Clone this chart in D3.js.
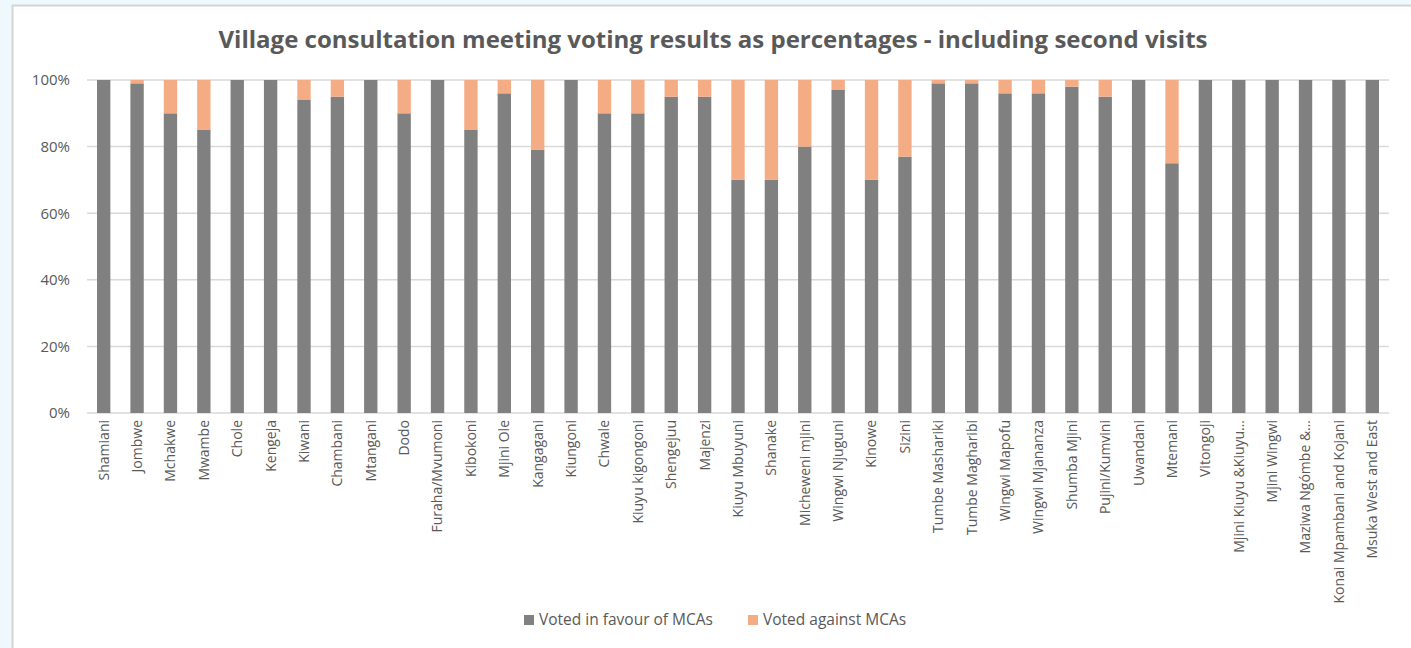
<!DOCTYPE html>
<html>
<head>
<meta charset="utf-8">
<script src="https://cdn.jsdelivr.net/npm/d3@7"></script>
<style>
  body { margin: 0; background: #eef8fd; overflow: hidden; }
  svg { display: block; }
  text { font-family: "Open Sans", "Noto Sans", sans-serif; fill: #595959; }
</style>
</head>
<body>
<svg id="chart" width="1411" height="648"></svg>
<script>
const villages = ["Shamiani", "Jombwe", "Mchakwe", "Mwambe", "Chole", "Kengeja", "Kiwani", "Chambani",
  "Mtangani", "Dodo", "Furaha/Mvumoni", "Kibokoni", "Mjini Ole", "Kangagani", "Kiungoni", "Chwale",
  "Kiuyu kigongoni", "Shengejuu", "Majenzi", "Kiuyu Mbuyuni", "Shanake", "Micheweni mjini",
  "Wingwi Njuguni", "Kinowe", "Sizini", "Tumbe Mashariki", "Tumbe Magharibi", "Wingwi Mapofu",
  "Wingwi Mjananza", "Shumba Mjini", "Pujini/Kumvini", "Uwandani", "Mtemani", "Vitongoji",
  "Mjini Kiuyu &Kiuyu…", "Mjini Wingwi", "Maziwa Ngómbe &…", "Konai Mpambani and Kojani",
  "Msuka West and East"];

// percent voted in favour
const inFavour = [100, 99, 90, 85, 100, 100, 94, 95, 100, 90, 100, 85, 96, 79, 100, 90, 90, 95, 95,
  70, 70, 80, 97, 70, 77, 99, 99, 96, 96, 98, 95, 100, 75, 100, 100, 100, 100, 100, 100];
const against = inFavour.map(v => 100 - v);

const seriesNames = ["Voted in favour of MCAs", "Voted against MCAs"];
const seriesColors = ["#808080", "#f4ac84"];
const yTicks = [0, 20, 40, 60, 80, 100];

const title = "Village consultation meeting voting results as percentages - including second visits";

const svg = d3.select('#chart');

// chart card
svg.append('rect')
  .attr('x', 12.5).attr('y', 5.5)
  .attr('width', 1420).attr('height', 660)
  .attr('fill', '#fff')
  .attr('stroke', '#d4d4d4')
  .attr('stroke-width', 2);

const margin = { top: 80, left: 87, right: 1389, bottom: 413 };

const x = d3.scaleBand()
  .domain(villages)
  .range([margin.left, margin.right])
  .paddingInner(0.6)
  .paddingOuter(0.3);

const y = d3.scaleLinear()
  .domain([0, 100])
  .range([margin.bottom, margin.top]);

// gridlines
svg.append('g')
  .selectAll('line')
  .data(yTicks)
  .enter().append('line')
  .attr('x1', margin.left).attr('x2', margin.right)
  .attr('y1', d => y(d)).attr('y2', d => y(d))
  .attr('stroke', '#d9d9d9')
  .attr('stroke-width', 1.5);

// y axis labels
const yAxis = svg.append('g')
  .attr('transform', 'translate(' + (margin.left - 17) + ',0)')
  .call(d3.axisLeft(y).tickValues(yTicks).tickFormat(d => d + '%').tickSize(0).tickPadding(0));
yAxis.select('.domain').remove();
yAxis.selectAll('text')
  .style('font-size', '15px')
  .style('font-family', '"Open Sans", sans-serif')
  .attr('fill', '#595959');

// stacked bars
const rows = villages.map((v, i) => ({ village: v, favour: inFavour[i], against: against[i] }));
const stack = d3.stack().keys(['favour', 'against']);
const layers = stack(rows);

svg.append('g')
  .selectAll('g')
  .data(layers)
  .enter().append('g')
  .attr('fill', (d, i) => seriesColors[i])
  .selectAll('rect')
  .data(d => d)
  .enter().append('rect')
  .attr('x', d => x(d.data.village))
  .attr('y', d => y(d[1]))
  .attr('width', x.bandwidth())
  .attr('height', d => y(d[0]) - y(d[1]));

// x axis labels
const xAxis = svg.append('g')
  .attr('transform', 'translate(0,' + margin.bottom + ')')
  .call(d3.axisBottom(x).tickSize(0).tickPadding(0));
xAxis.select('.domain').remove();
xAxis.selectAll('text')
  .attr('transform', 'rotate(-90)')
  .attr('text-anchor', 'end')
  .attr('x', -7)
  .attr('y', 0)
  .attr('dy', '0.35em')
  .style('font-size', '14px')
  .style('font-family', '"Open Sans", sans-serif')
  .attr('fill', '#595959');

// title
svg.append('text')
  .attr('x', 713)
  .attr('y', 48)
  .attr('text-anchor', 'middle')
  .style('font-size', '24px')
  .style('font-weight', 'bold')
  .text(title);

// legend
const legend = svg.append('g').attr('transform', 'translate(524,620)');
const legendX = [0, 224];
seriesNames.forEach((name, i) => {
  const g = legend.append('g').attr('transform', 'translate(' + legendX[i] + ',0)');
  g.append('rect')
    .attr('x', 0).attr('y', -5)
    .attr('width', 10).attr('height', 10)
    .attr('fill', seriesColors[i]);
  g.append('text')
    .attr('x', 15)
    .attr('y', 0)
    .attr('dy', '0.35em')
    .style('font-size', '15.5px')
    .text(name);
});
</script>
</body>
</html>
